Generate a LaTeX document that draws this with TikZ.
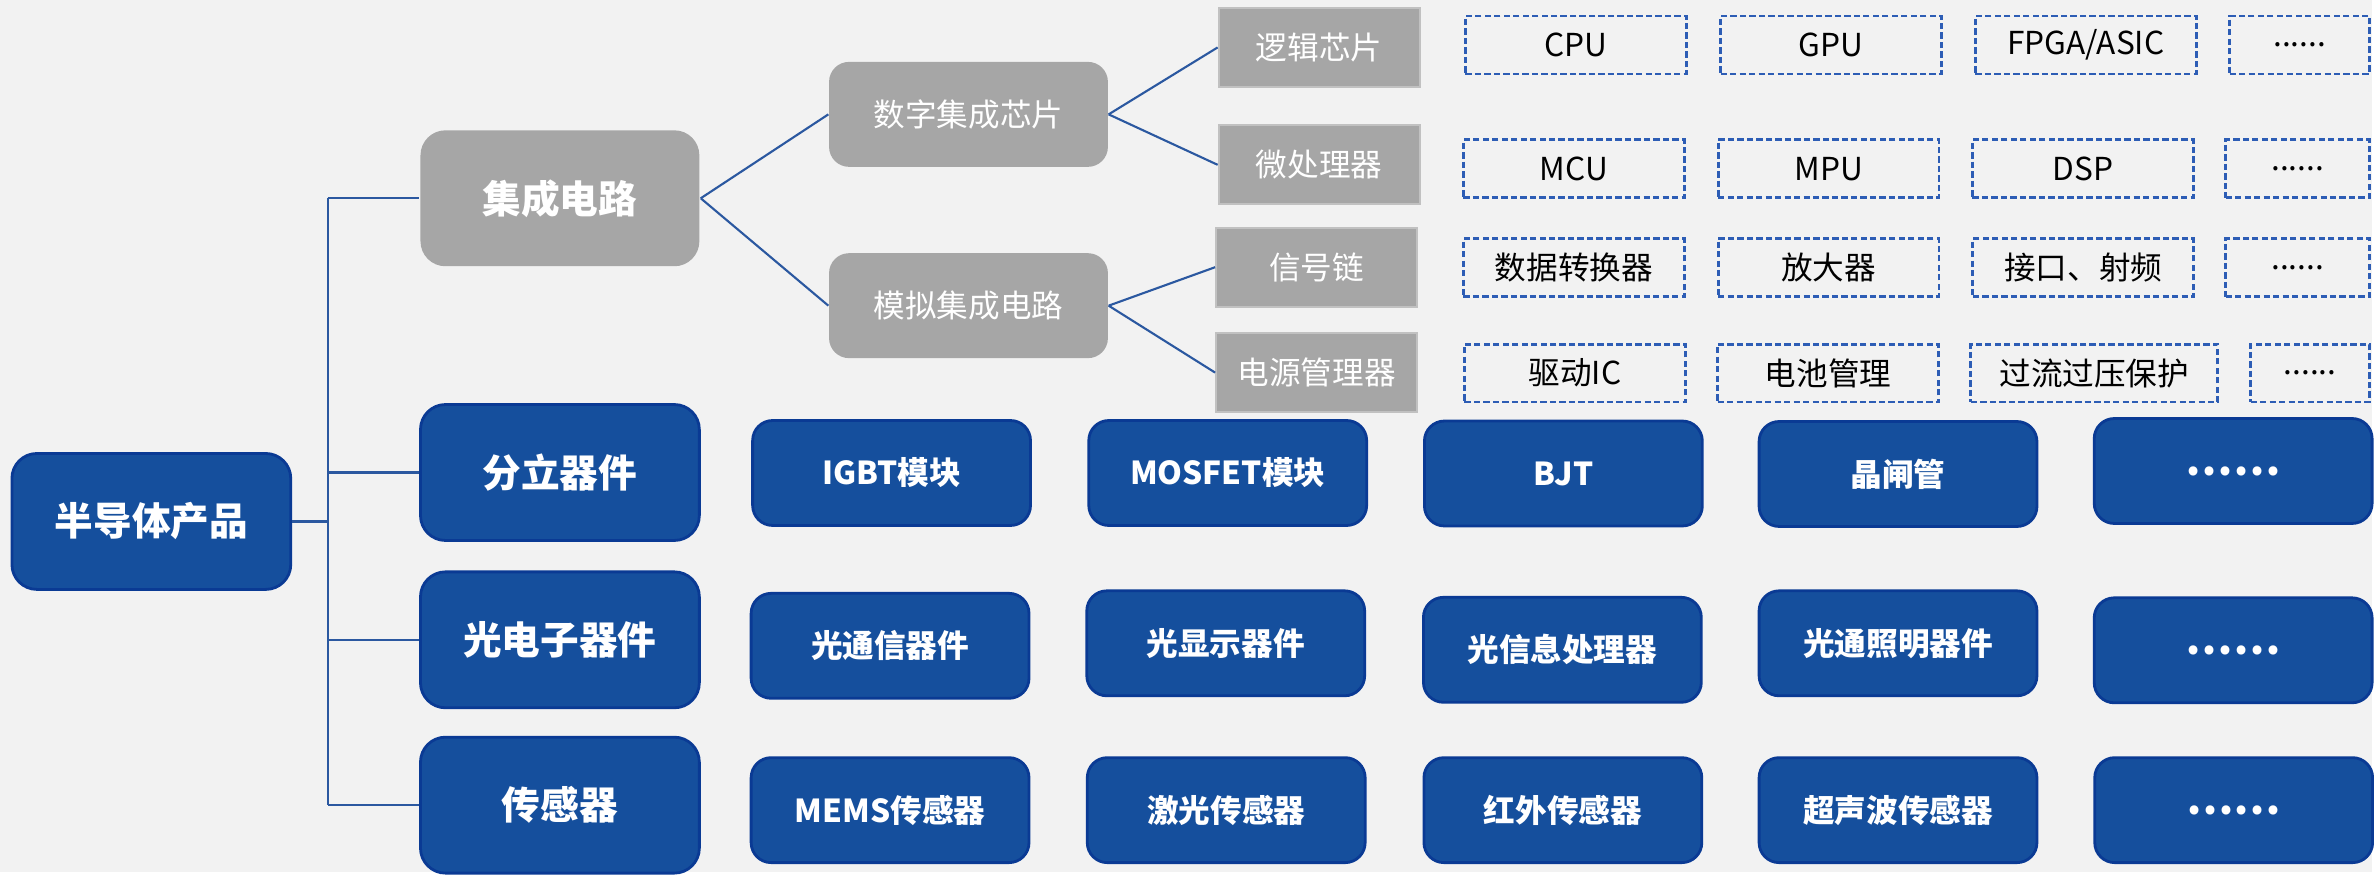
\documentclass[tikz,border=0pt]{standalone}
\usepackage{fontspec}
\setmainfont{Noto Sans CJK SC}
\definecolor{paper}{HTML}{F2F2F2}
\definecolor{boxblue}{HTML}{154F9D}
\definecolor{edgeblue}{HTML}{0A3A94}
\definecolor{linkblue}{HTML}{2B58A0}
\definecolor{dashblue}{HTML}{2D5DB5}
\definecolor{boxgray}{HTML}{A6A6A6}
\tikzset{
    bluebox/.style={draw=edgeblue, line width=0.8pt, fill=boxblue, rounded corners=0.2cm, text=white,
        font=\fontsize{9}{11}\selectfont\bfseries, inner sep=0pt, minimum width=2.78cm, minimum height=1.05cm},
    topbox/.style={bluebox, minimum width=2.79cm, minimum height=1.36cm, rounded corners=0.25cm,
        font=\fontsize{11}{13}\selectfont\bfseries},
    graytop/.style={topbox, fill=boxgray, draw=none},
    graymid/.style={fill=boxgray, rounded corners=0.2cm, text=white, font=\fontsize{9}{11}\selectfont,
        inner sep=0pt, minimum width=2.79cm, minimum height=1.05cm},
    graysub/.style={fill=boxgray, draw=boxgray!70!white, line width=0.6pt, text=white,
        font=\fontsize{9}{11}\selectfont, inner sep=0pt, minimum width=2.01cm, minimum height=0.79cm},
    leafbox/.style={draw=dashblue, dash pattern=on 1.8pt off 0.9pt, line width=0.8pt, text=black,
        font=\fontsize{9}{11}\selectfont, inner sep=0pt, minimum width=2.21cm, minimum height=0.58cm},
    dotsbox/.style={bluebox, font=\fontsize{12}{14}\selectfont\bfseries},
    link/.style={draw=linkblue, line width=0.6pt}
}
\begin{document}
\begin{tikzpicture}[x=0.01cm, y=-0.01cm]
    \fill[paper] (0,0) rectangle (2374,873);

    \node[topbox] (root) at (151.5,522) {半导体产品};
    \node[graytop] (ic) at (560.5,198.5) {集成电路};
    \node[topbox] (discrete) at (560.5,473) {分立器件};
    \node[topbox] (opto) at (560.5,640.5) {光电子器件};
    \node[topbox] (sensor) at (560.5,806) {传感器};

    \node[graymid] (digital) at (969.5,114.5) {数字集成芯片};
    \node[graymid] (analog) at (969.5,306) {模拟集成电路};

    \node[graysub] (logic) at (1320.5,47.5) {逻辑芯片};
    \node[graysub] (micro) at (1320.5,165) {微处理器};
    \node[graysub] (chain) at (1318,267.5) {信号链};
    \node[graysub] (power) at (1318,373) {电源管理器};

    \node[leafbox] (cpu) at (1577.5,45) {CPU};
    \node[leafbox] (gpu) at (1833,45) {GPU};
    \node[leafbox] (fpga) at (2088,45) {FPGA/ASIC};
    \node[leafbox, minimum width=1.40cm] (moreA) at (2302,45) {......};
    \node[leafbox] (mcu) at (1575.5,169) {MCU};
    \node[leafbox] (mpu) at (1830.5,169) {MPU};
    \node[leafbox] (dsp) at (2085,169) {DSP};
    \node[leafbox, minimum width=1.44cm] (moreB) at (2300,169) {......};
    \node[leafbox] (adc) at (1575.5,268) {数据转换器};
    \node[leafbox] (amp) at (1830.5,268) {放大器};
    \node[leafbox] (rf) at (2085.5,268) {接口、射频};
    \node[leafbox, minimum width=1.44cm] (moreC) at (2300,268) {......};
    \node[leafbox] (driver) at (1576.5,373.5) {驱动IC};
    \node[leafbox] (battery) at (1830,373.5) {电池管理};
    \node[leafbox, minimum width=2.47cm] (protect) at (2096.5,373.5) {过流过压保护};
    \node[leafbox, minimum width=1.19cm] (moreD) at (2312.5,373.5) {......};

    \node[bluebox] (igbt) at (892.5,473.5) {IGBT模块};
    \node[bluebox] (mosfet) at (1229,473.5) {MOSFET模块};
    \node[bluebox] (bjt) at (1565,474) {BJT};
    \node[bluebox] (thyristor) at (1900,474.5) {晶闸管};
    \node[dotsbox] (moreE) at (2235.5,471.5) {……};

    \node[bluebox] (optcomm) at (891,646.5) {光通信器件};
    \node[bluebox] (optdisp) at (1227,644) {光显示器件};
    \node[bluebox] (optinfo) at (1564,650.5) {光信息处理器};
    \node[bluebox] (optlight) at (1900,644) {光通照明器件};
    \node[dotsbox] (moreF) at (2235.5,651) {……};

    \node[bluebox] (mems) at (891,811) {MEMS传感器};
    \node[bluebox] (laser) at (1227.5,811) {激光传感器};
    \node[bluebox] (infrared) at (1564.5,811) {红外传感器};
    \node[bluebox] (ultrasonic) at (1900,811) {超声波传感器};
    \node[dotsbox] (moreG) at (2236,811) {……};

    \coordinate (trunk) at (328,522);
    \draw[link] (root.east) -- (root.east -| trunk);
    \draw[link] (ic.west -| trunk) -- (sensor.west -| trunk);
    \foreach \n in {ic,discrete,opto,sensor}
        \draw[link] (\n.west -| trunk) -- (\n.west);
    \draw[link] (ic.east) -- (digital.west);
    \draw[link] (ic.east) -- (analog.west);
    \draw[link] (digital.east) -- (logic.west);
    \draw[link] (digital.east) -- (micro.west);
    \draw[link] (analog.east) -- (chain.west);
    \draw[link] (analog.east) -- (power.west);
\end{tikzpicture}
\end{document}
